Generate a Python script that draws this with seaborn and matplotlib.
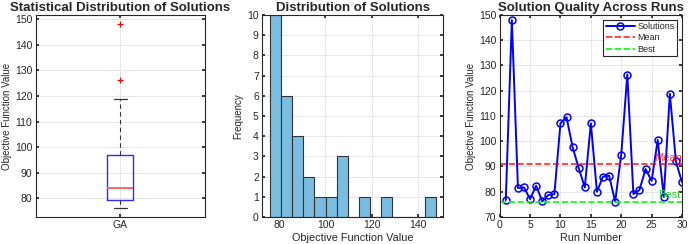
import matplotlib
matplotlib.use("Agg")
import matplotlib.pyplot as plt
import numpy as np
import pandas as pd
import seaborn as sns

# =========================
# DATA
# =========================
runs = list(range(1, 31))
solutions = [76.7, 148.0, 81.5, 81.7, 77.1, 82.4, 76.2, 78.7, 79.1, 107.1,
             109.5, 97.6, 89.4, 81.7, 107.1, 80.0, 86.0, 86.4, 76.1, 94.7,
             126.4, 79.1, 80.7, 89.0, 84.3, 100.5, 78.0, 118.8, 92.0, 83.7]
algo_labels = ["GA"] * len(solutions)

df = pd.DataFrame({"run": runs, "value": solutions, "algo": algo_labels})
mean_val = df["value"].mean()
best_val = df["value"].min()

# =========================
# STYLE
# =========================
sns.set_theme(style="whitegrid")
plt.rcParams["font.family"] = ["Liberation Sans", "DejaVu Sans"]
plt.rcParams.update({
    "axes.edgecolor": "#262626",
    "axes.linewidth": 0.8,
    "grid.color": "#e3e3e3",
    "grid.linewidth": 0.6,
    "xtick.direction": "in",
    "ytick.direction": "in",
    "xtick.color": "#262626",
    "ytick.color": "#262626",
    "xtick.labelsize": 7.5,
    "ytick.labelsize": 7.5,
    "xtick.major.size": 2.5,
    "ytick.major.size": 2.5,
    "xtick.major.pad": 2.5,
    "ytick.major.pad": 2.5,
})

W, H = 688, 244
fig = plt.figure(figsize=(W / 100, H / 100), dpi=100)


def axes_px(left, right, top, bottom):
    return fig.add_axes([left / W, (H - bottom) / H, (right - left) / W, (bottom - top) / H])


def matlab_box(ax):
    ax.tick_params(top=True, right=True, bottom=True, left=True)
    for s in ax.spines.values():
        s.set_visible(True)
        s.set_color("#262626")
    ax.grid(True)
    ax.set_axisbelow(True)


title_kw = dict(fontsize=9.5, fontweight="bold", pad=3)

# =========================
# 1. BOXPLOT
# =========================
ax1 = axes_px(35.7, 205, 15, 217)
sns.boxplot(data=df, x="algo", y="value", ax=ax1, width=0.155, fill=False,
            whis=1.5,
            boxprops=dict(color="#2b2bff", linewidth=1.0),
            medianprops=dict(color="#ff5c5c", linewidth=1.3),
            whiskerprops=dict(color="#333333", linewidth=0.8, linestyle=(0, (4, 3))),
            capprops=dict(color="#333333", linewidth=0.9),
            flierprops=dict(marker="+", markeredgecolor="red", markersize=5,
                            markeredgewidth=0.9))
ax1.set_ylim(72.7, 151.6)
ax1.set_yticks(range(80, 151, 10))
ax1.set_xlim(-0.5, 0.5)
ax1.set_xlabel("")
ax1.set_ylabel("Objective Function Value", fontsize=7, color="#262626", labelpad=2)
ax1.set_title("Statistical Distribution of Solutions", **title_kw)
matlab_box(ax1)

# =========================
# 2. HISTOGRAM
# =========================
ax2 = axes_px(262.3, 443.3, 15, 217)
sns.histplot(data=df, x="value", bins=15, ax=ax2, color="#7bbde0", alpha=1,
             edgecolor="#333333", linewidth=0.8)
ax2.set_xlim(72.7, 151)
ax2.set_ylim(0, 10)
ax2.set_xticks([80, 100, 120, 140])
ax2.set_yticks(range(0, 11))
ax2.set_xlabel("Objective Function Value", fontsize=7.8, color="#262626", labelpad=2)
ax2.set_ylabel("Frequency", fontsize=7, color="#262626", labelpad=3)
ax2.set_title("Distribution of Solutions", **title_kw)
matlab_box(ax2)

# =========================
# 3. SOLUTION QUALITY LINE
# =========================
ax3 = axes_px(499.7, 682, 15, 217)
sns.lineplot(data=df, x="run", y="value", ax=ax3, color="blue", linewidth=1.4,
             marker="o", markersize=5, markerfacecolor="none",
             markeredgecolor="blue", markeredgewidth=1.1, label="Solutions")
ax3.axhline(mean_val, color="red", linestyle="--", linewidth=1.2, alpha=0.85, label="Mean")
ax3.axhline(best_val, color="lime", linestyle="--", linewidth=1.2, label="Best")
ax3.text(25.4, mean_val + 0.6, "Mean", color="red", fontsize=8, alpha=0.8, va="bottom")
ax3.text(26.0, best_val + 0.6, "Best", color="#22dd22", fontsize=8, va="bottom")
ax3.set_xlim(0, 30)
ax3.set_ylim(70, 150)
ax3.set_xticks(range(0, 31, 5))
ax3.set_yticks(range(70, 151, 10))
ax3.set_xlabel("Run Number", fontsize=7.8, color="#262626", labelpad=2)
ax3.set_ylabel("Objective Function Value", fontsize=7, color="#262626", labelpad=2)
ax3.set_title("Solution Quality Across Runs", **title_kw)
leg = ax3.legend(loc="upper right", fontsize=6.5, frameon=True, fancybox=False,
                 edgecolor="#262626", framealpha=1, handlelength=3.2,
                 borderpad=0.3, labelspacing=0.25, handletextpad=0.3,
                 borderaxespad=0.5)
leg.get_frame().set_linewidth(0.8)
matlab_box(ax3)

fig.savefig("out.png", dpi=100)
